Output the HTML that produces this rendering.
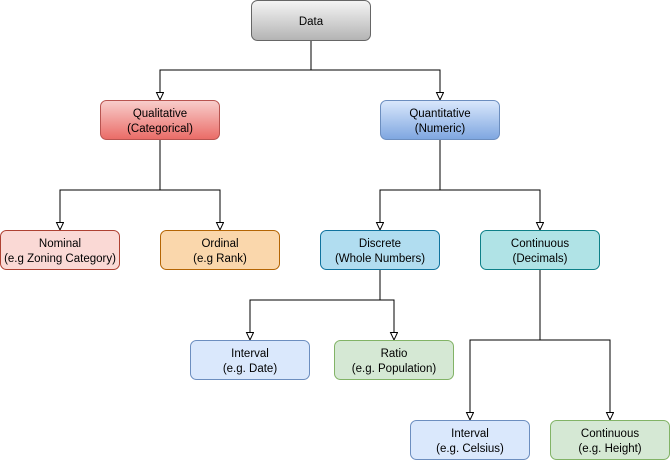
<!DOCTYPE html>
<html><head><style>body{margin:0;background:#fff}</style></head><body>
<svg width="671" height="461" xmlns="http://www.w3.org/2000/svg" font-family="Liberation Sans, Arial, sans-serif" font-size="11.5">
<defs>
<linearGradient id="g1" x1="0" y1="0" x2="0" y2="1"><stop offset="0" stop-color="#f5f5f5"/><stop offset="1" stop-color="#b3b3b3"/></linearGradient>
<linearGradient id="g2" x1="0" y1="0" x2="0" y2="1"><stop offset="0" stop-color="#f8cecc"/><stop offset="1" stop-color="#ea6b66"/></linearGradient>
<linearGradient id="g3" x1="0" y1="0" x2="0" y2="1"><stop offset="0" stop-color="#dae8fc"/><stop offset="1" stop-color="#7ea6e0"/></linearGradient>
<marker id="a" markerWidth="10" markerHeight="10" refX="8" refY="4" orient="auto" markerUnits="userSpaceOnUse"><path d="M0.5,0.5 L8,4 L0.5,7.5 Z" fill="#fff" stroke="#000"/></marker>
</defs>
<g fill="none" stroke="#000" stroke-width="1">
<path d="M311,41 V70 H160 V100" marker-end="url(#a)"/>
<path d="M311,70 H440 V100" marker-end="url(#a)"/>
<path d="M160,140 V190 H60 V230" marker-end="url(#a)"/>
<path d="M160,190 H220 V230" marker-end="url(#a)"/>
<path d="M440,140 V190 H380 V230" marker-end="url(#a)"/>
<path d="M440,190 H540 V230" marker-end="url(#a)"/>
<path d="M380,270 V300 H250 V340" marker-end="url(#a)"/>
<path d="M380,300 H394 V340" marker-end="url(#a)"/>
<path d="M540,270 V340 H470 V420" marker-end="url(#a)"/>
<path d="M540,340 H610 V420" marker-end="url(#a)"/>
</g>
<g>
<rect x="251.5" y="0.5" width="119" height="40" rx="6" fill="url(#g1)" stroke="#666"/>
<rect x="100.5" y="100.5" width="119" height="39" rx="6" fill="url(#g2)" stroke="#b85450"/>
<rect x="380.5" y="100.5" width="119" height="39" rx="6" fill="url(#g3)" stroke="#6c8ebf"/>
<rect x="0.5" y="230.5" width="119" height="39" rx="6" fill="#fad9d5" stroke="#ae4132"/>
<rect x="160.5" y="230.5" width="119" height="39" rx="6" fill="#fad7ac" stroke="#b46504"/>
<rect x="320.5" y="230.5" width="119" height="39" rx="6" fill="#b1ddf0" stroke="#10739e"/>
<rect x="480.5" y="230.5" width="119" height="39" rx="6" fill="#b0e3e6" stroke="#0e8088"/>
<rect x="190.5" y="340.5" width="119" height="39" rx="6" fill="#dae8fc" stroke="#6c8ebf"/>
<rect x="334.5" y="340.5" width="119" height="39" rx="6" fill="#d5e8d4" stroke="#82b366"/>
<rect x="410.5" y="420.5" width="119" height="39" rx="6" fill="#dae8fc" stroke="#6c8ebf"/>
<rect x="550.5" y="420.5" width="119" height="39" rx="6" fill="#d5e8d4" stroke="#82b366"/>
</g>
<g text-anchor="middle" fill="#000">
<text x="311" y="25">Data</text>
<text x="160" y="117">Qualitative</text><text x="160" y="132">(Categorical)</text>
<text x="440" y="117">Quantitative</text><text x="440" y="132">(Numeric)</text>
<text x="60" y="247">Nominal</text><text x="60" y="262">(e.g Zoning Category)</text>
<text x="220" y="247">Ordinal</text><text x="220" y="262">(e.g Rank)</text>
<text x="380" y="247">Discrete</text><text x="380" y="262">(Whole Numbers)</text>
<text x="540" y="247">Continuous</text><text x="540" y="262">(Decimals)</text>
<text x="250" y="357">Interval</text><text x="250" y="372">(e.g. Date)</text>
<text x="394" y="357">Ratio</text><text x="394" y="372">(e.g. Population)</text>
<text x="470" y="437">Interval</text><text x="470" y="452">(e.g. Celsius)</text>
<text x="610" y="437">Continuous</text><text x="610" y="452">(e.g. Height)</text>
</g>
</svg>
</body></html>
